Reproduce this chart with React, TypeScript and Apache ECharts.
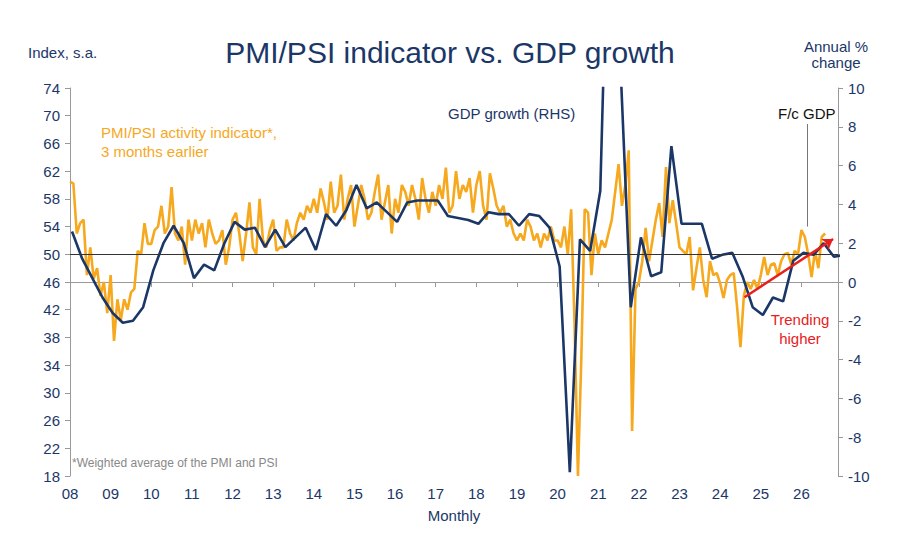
import { useEffect, useRef } from 'react'
import * as echarts from 'echarts'

// PMI/PSI activity indicator, monthly from Jan 2008 (left axis)
const pmi2008 = [60.5, 60.2, 53, 54.5, 55, 47, 51, 46.5, 48, 44, 46, 41.5]
const pmi2009 = [47, 37.5, 43.5, 40.5, 43.5, 42, 44.5, 45, 50.5, 50, 54.5, 51.5]
const pmi2010 = [51.5, 53.5, 54, 57, 53, 54, 59.7, 53, 52, 54, 48.5, 55]
const pmi2011 = [52, 55, 53, 54.5, 51, 55, 53, 51.5, 52, 53.5, 48.5, 51]
const pmi2012 = [55, 56, 53, 49, 53, 57.5, 51, 50, 58, 52, 51, 53.5]
const pmi2013 = [55, 50.5, 51, 51, 55, 53, 52, 54.5, 56, 55, 57, 56]
const pmi2014 = [58, 56, 59.5, 57.5, 55, 60.5, 56, 57, 61.5, 55, 58, 60]
const pmi2015 = [54, 57, 60, 58, 55, 56, 59, 61.5, 55, 57.5, 60, 53]
const pmi2016 = [58, 56, 60, 59, 57, 60, 58, 55, 61, 58, 56, 59]
const pmi2017 = [57, 60, 58, 62.5, 56, 57, 62, 58, 60, 59, 61, 56]
const pmi2018 = [60, 62, 57, 55, 61.7, 59.5, 57, 56, 57, 54, 55, 53]
const pmi2019 = [52, 53, 52, 55, 54, 52, 53, 51, 53, 52, 54, 52]
const pmi2020 = [52, 51, 54, 50, 56.5, 40, 18, 35, 56.5, 56, 47, 53]
const pmi2021 = [50, 52, 51, 53, 55, 59, 63, 57, 60, 65, 24.5, 45]
const pmi2022 = [46, 49, 53.8, 49, 52, 55, 57.4, 52.5, 62.6, 54.5, 57.8, 54.5]
const pmi2023 = [51, 50.5, 50, 52.5, 44.8, 48, 51, 46.3, 43.8, 49, 47, 47.3]
const pmi2024 = [45.8, 43.7, 46.3, 47, 47.3, 42.4, 36.6, 44, 46, 45, 46.3, 45]
const pmi2025 = [47, 49.6, 47, 48.5, 48.7, 47, 49, 50, 50.2, 48.5, 50.5, 50]
const pmi2026 = [53.5, 52.5, 50, 46.7, 50.5, 48, 52.5, 53]

// GDP growth, quarterly from Q1 2008, annual % change (right axis)
const gdpValues = [
  2.6, 1.2, 0.2, -0.8, -1.6, -2.1, -2.0, -1.3, 0.6, 2.0, 2.9, 2.0,
  0.2, 0.9, 0.6, 2.0, 3.1, 2.7, 2.8, 1.8, 2.7, 1.8, 2.3, 2.8,
  1.65, 3.5, 2.9, 3.7, 5.0, 3.8, 4.1, 3.6, 3.1, 4.1, 4.2, 4.2,
  4.2, 3.4, 3.3, 3.2, 3.0, 3.6, 3.5, 3.5, 2.9, 3.5, 3.4, 2.8,
  0.8, -9.8, 2.2, 1.6, 4.7, 24, 11, -1.3, 2.3, 0.3, 0.5, 7.0,
  3.0, 3.0, 3.0, 1.2, 1.4, 1.5, 0.3, -1.3, -1.7, -0.8, -1.0, 1.1,
  1.5, 1.4, 2.0, 1.3, 1.4,
]

const pmiValues = [
  ...pmi2008, ...pmi2009, ...pmi2010, ...pmi2011, ...pmi2012, ...pmi2013,
  ...pmi2014, ...pmi2015, ...pmi2016, ...pmi2017, ...pmi2018, ...pmi2019,
  ...pmi2020, ...pmi2021, ...pmi2022, ...pmi2023, ...pmi2024, ...pmi2025, ...pmi2026,
]

const leftTicks = { min: 18, max: 74, interval: 4 }
const rightTicks = { min: -10, max: 10, interval: 2 }
const trendArrow = [[2024.6, 43.8], [2026.78, 52.2]]
const forecastMarker = [[2026.15, 54], [2026.15, 68.8]]

const NAVY = '#1b3768'
const ORANGE = '#f6a81e'

export default function App() {
  const chartRef = useRef<HTMLDivElement>(null)

  useEffect(() => {
    if (!chartRef.current) return
    const chart = echarts.init(chartRef.current, null, { renderer: 'svg' })

    const font = 'Arial, "Liberation Sans", sans-serif'
    const pmiData = pmiValues.map((v, i) => [2008 + i / 12, v])
    const gdpData = gdpValues.map((v, i) => [2008.05 + i * 0.25, v])

    chart.setOption({
      animation: false,
      textStyle: { fontFamily: font },
      grid: { left: 62, right: 54, top: 80, bottom: 69 },
      title: {
        text: 'PMI/PSI indicator vs. GDP growth',
        left: 'center',
        top: 24,
        textStyle: { color: NAVY, fontSize: 30, fontWeight: 'normal', fontFamily: font },
      },
      xAxis: {
        type: 'value',
        min: 2008,
        max: 2026.9,
        interval: 1,
        name: 'Monthly',
        nameLocation: 'middle',
        nameGap: 32,
        nameTextStyle: { color: NAVY, fontSize: 15 },
        axisLine: { lineStyle: { color: '#999' } },
        axisTick: { show: true, length: 5, lineStyle: { color: '#999' } },
        axisLabel: {
          color: NAVY,
          fontSize: 15,
          margin: 10,
          showMaxLabel: false,
          formatter: (v: number) => (Math.round(v) % 100).toString().padStart(2, '0'),
        },
        splitLine: { show: false },
      },
      yAxis: [
        {
          type: 'value',
          ...leftTicks,
          position: 'left',
          axisLine: { show: true, lineStyle: { color: '#999' } },
          axisTick: { show: true, length: 5, lineStyle: { color: '#999' } },
          axisLabel: { color: NAVY, fontSize: 15, margin: 10 },
          splitLine: { show: false },
        },
        {
          type: 'value',
          ...rightTicks,
          position: 'right',
          axisLine: { show: true, lineStyle: { color: '#999' } },
          axisTick: { show: true, length: 5, lineStyle: { color: '#999' } },
          axisLabel: { color: NAVY, fontSize: 15, margin: 10 },
          splitLine: { show: false },
        },
      ],
      series: [
        {
          name: 'PMI/PSI',
          type: 'line',
          yAxisIndex: 0,
          data: pmiData,
          showSymbol: false,
          lineStyle: { color: ORANGE, width: 2.6 },
          itemStyle: { color: ORANGE },
          z: 2,
          markLine: {
            silent: true,
            symbol: 'none',
            label: { show: false },
            data: [
              { yAxis: 50, lineStyle: { color: '#333', width: 1, type: 'solid' } },
              [
                { coord: forecastMarker[0], lineStyle: { color: '#777', width: 1, type: 'solid' } },
                { coord: forecastMarker[1] },
              ],
              [
                {
                  coord: trendArrow[0],
                  symbol: 'none',
                  lineStyle: { color: '#e8201c', width: 2.5, type: 'solid' },
                },
                { coord: trendArrow[1], symbol: 'arrow', symbolSize: 10 },
              ],
            ],
          },
        },
        {
          name: 'GDP growth',
          type: 'line',
          yAxisIndex: 1,
          data: gdpData,
          showSymbol: false,
          lineStyle: { color: NAVY, width: 2.6 },
          itemStyle: { color: NAVY },
          z: 3,
        },
      ],
      graphic: [
        { type: 'text', left: 20, top: 37, style: { text: 'Index, s.a.', fill: NAVY, fontSize: 15, fontFamily: font } },
        {
          type: 'text', x: 828, y: 30,
          style: { text: 'Annual %\nchange', fill: NAVY, fontSize: 15, align: 'center', lineHeight: 16, fontFamily: font },
        },
        {
          type: 'text', left: 93, top: 115,
          style: { text: 'PMI/PSI activity indicator*,\n3 months earlier', fill: ORANGE, fontSize: 15, lineHeight: 19, fontFamily: font },
        },
        { type: 'text', left: 440, top: 98, style: { text: 'GDP growth (RHS)', fill: NAVY, fontSize: 15, fontFamily: font } },
        { type: 'text', left: 770, top: 98, style: { text: 'F/c GDP', fill: '#111', fontSize: 15, fontFamily: font } },
        {
          type: 'text', x: 792, y: 302,
          style: { text: 'Trending\nhigher', fill: '#e8201c', fontSize: 15, lineHeight: 19, align: 'center', fontFamily: font },
        },
        {
          type: 'text', left: 64, top: 449,
          style: { text: '*Weighted average of the PMI and PSI', fill: '#888', fontSize: 12, fontFamily: font },
        },
      ],
    })

    return () => {
      chart.dispose()
    }
  }, [])

  return <div ref={chartRef} style={{ width: 884, height: 537 }} />
}
